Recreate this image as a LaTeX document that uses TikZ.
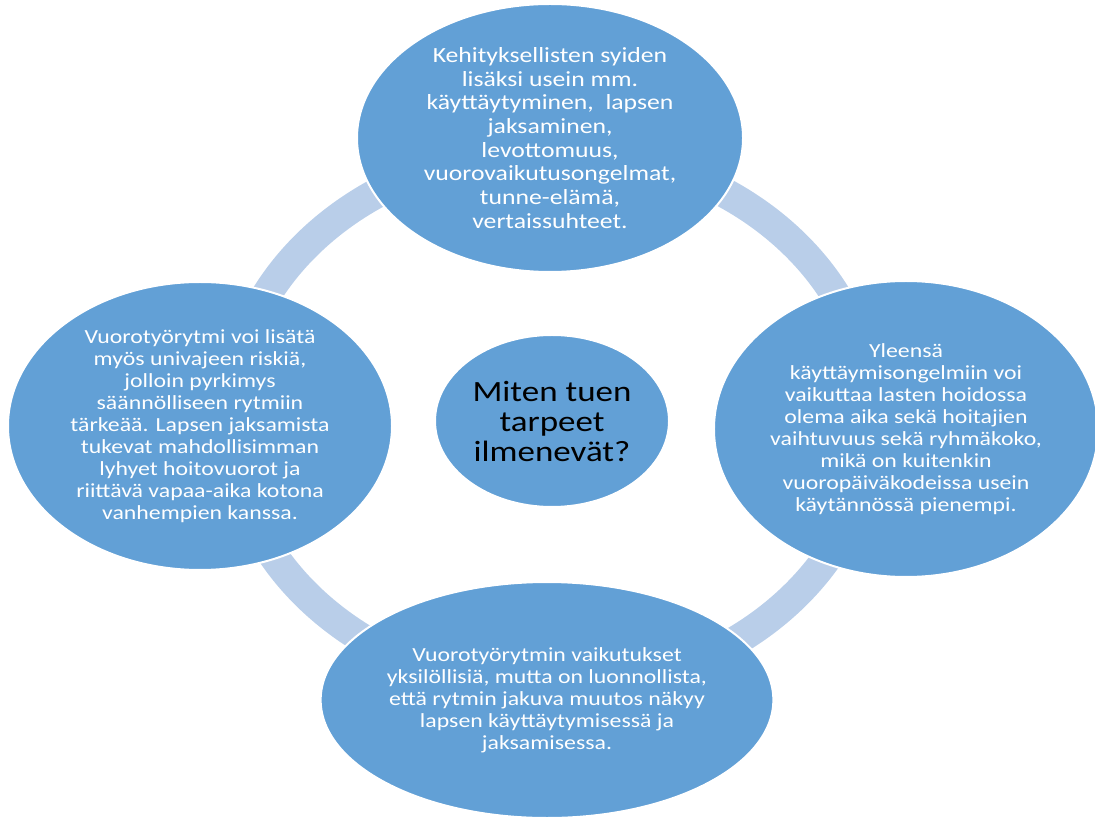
\documentclass[tikz,border=0pt]{standalone}
\usepackage{fontspec}
\setmainfont{Carlito}[FakeStretch=1.19]
\usetikzlibrary{shapes.geometric}

\definecolor{bubblefill}{RGB}{98,160,214}
\definecolor{ringblue}{RGB}{185,206,233}

\begin{document}
\begin{tikzpicture}[x=0.5pt,y=-0.5pt,
  bubble/.style={ellipse,fill=bubblefill,draw=white,line width=1pt,inner sep=0pt,
    text=white,align=center,font=\fontsize{10}{11}\selectfont},
  hub/.style={bubble,text=black,font=\fontsize{14.7}{15}\selectfont}]
\useasboundingbox (0,0) rectangle (1095,822);
% ring behind the bubbles
\coordinate (mid) at (551,420);
\draw[ringblue,line width=15pt] (mid) ellipse [x radius=321,y radius=270];
% the four bubbles round the ring
\node[bubble,minimum width=193pt,minimum height=134pt,font=\fontsize{10.8}{11.85}\selectfont] (top) at (550,138)
  {Kehityksellisten syiden\\ lisäksi usein mm.\\ käyttäytyminen,~ lapsen\\ jaksaminen,\\ levottomuus,\\ vuorovaikutusongelmat,\\ tunne-elämä,\\ vertaissuhteet.};
\node[bubble,minimum width=192pt,minimum height=144pt] (left) at (200,426)
  {Vuorotyörytmi voi lisätä\\ myös univajeen riskiä,\\ jolloin pyrkimys\\ säännölliseen rytmiin\\ tärkeää. Lapsen jaksamista\\ tukevat mahdollisimman\\ lyhyet hoitovuorot ja\\ riittävä vapaa-aika kotona\\ vanhempien kanssa.};
\node[bubble,minimum width=188pt,minimum height=148pt] (right) at (906,429)
  {Yleensä\\ käyttäymisongelmiin voi\\ vaikuttaa lasten hoidossa\\ olema aika sekä hoitajien\\ vaihtuvuus sekä ryhmäkoko,\\ mikä on kuitenkin\\ vuoropäiväkodeissa usein\\ käytännössä pienempi.};
\node[bubble,minimum width=222pt,minimum height=118pt] (bottom) at (547,700)
  {Vuorotyörytmin vaikutukset\\ yksilöllisiä, mutta on luonnollista,\\ että rytmin jakuva muutos näkyy\\ lapsen käyttäytymisessä ja\\ jaksamisessa.};
% centre question
\node[hub,minimum width=117pt,minimum height=86pt] (question) at (552,421)
  {Miten tuen\\ tarpeet\\ ilmenevät?};
\end{tikzpicture}
\end{document}
